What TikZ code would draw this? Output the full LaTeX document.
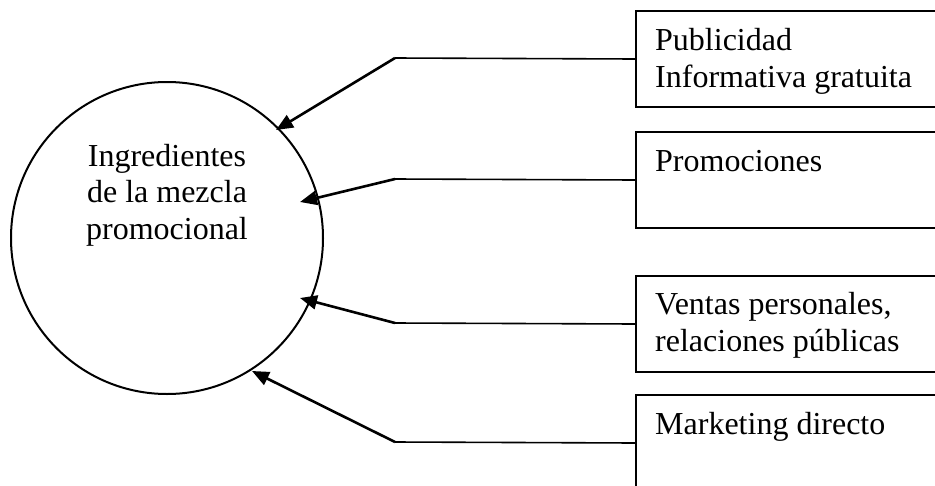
\documentclass[tikz,border=0pt]{standalone}
\usepackage{fontspec}
\setmainfont{Liberation Serif}
\usetikzlibrary{arrows.meta}
\tikzset{
  feeder/.style={draw, line width=2pt, minimum width=320pt,
    minimum height=96pt, anchor=north west, inner sep=0pt},
  feedtext/.style={anchor=base west, align=left, inner sep=0pt},
  link/.style={line width=1.6pt},
  push/.style={line width=2.6pt, -{Triangle[length=17pt,width=14pt]}},
}

\begin{document}
\begin{tikzpicture}[x=1pt, y=-1pt, font=\fontsize{32}{36.5}\selectfont] % mezcla promocional
    \useasboundingbox (0,0) rectangle (935,485);
    \clip (0,0) rectangle (935,485);

    % the mix (circle and its label; base = last line)
    \node[circle, draw, line width=2pt, minimum size=312pt, inner sep=0pt]
        (mix) at (167,238) {};
    \node[align=center, anchor=base, inner sep=0pt] (mixtext) at (167,239)
        {Ingredientes\\de la mezcla\\promocional};

    % boxes, bends and arrow tips (name/top/tip x/tip y)
    \foreach \n/\ytop/\tx/\ty in {pub/10/276/130, promo/131/300/202,
                                 sales/275/300/298, direct/394/252/371}{
        \node[feeder] (\n) at (635,\ytop) {};
        \coordinate (\n bend) at (395,\ytop+48);
        \coordinate (\n tip)  at (\tx,\ty);
    }

    % box texts
    \node[feedtext] (pubtext)    at (655,87)  {Publicidad\\Informativa gratuita};
    \node[feedtext] (promotext)  at (655,171) {Promociones};
    \node[feedtext] (salestext)  at (655,351) {Ventas personales,\\relaciones públicas};
    \node[feedtext] (directtext) at (655,434) {Marketing directo};

    % connectors
    \foreach \n in {pub,promo,sales,direct}{
        \draw[link] (\n.west) -- (\n bend);
        \draw[push] (\n bend) -- (\n tip);
    }
\end{tikzpicture}
\end{document}
